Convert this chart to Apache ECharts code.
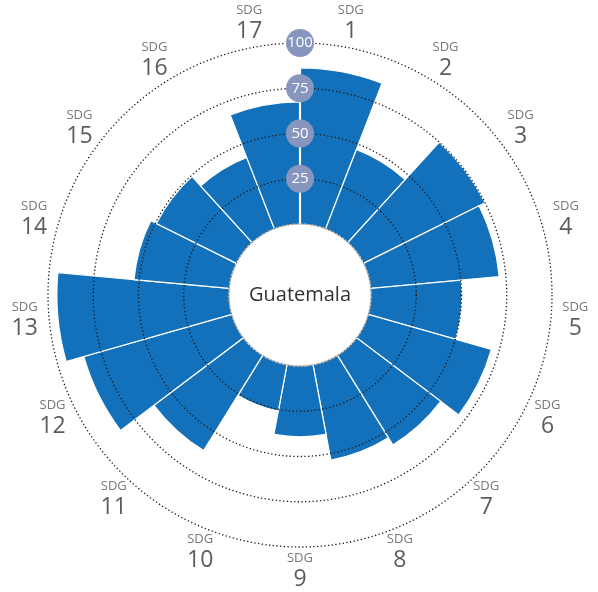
<!DOCTYPE html>
<html>
<head>
<meta charset="utf-8">
<script src="https://cdn.jsdelivr.net/npm/echarts@6/dist/echarts.min.js"></script>
<style>html,body{margin:0;background:#fff}#chart{width:598px;height:592px}</style>
</head>
<body>
<div id="chart"></div>
<script>
const goals = ['1', '2', '3', '4', '5', '6', '7', '8', '9', '10', '11', '12', '13', '14', '15', '16', '17'];
const scores = [86.2, 47, 75, 71.3, 50.3, 70.7, 58.2, 53.6, 39.1, 26, 61.9, 85, 95.1, 52.9, 49.4, 42.3, 67.5];
const country = 'Guatemala';
const labelRadius = 113.5; // radius (axis units) where the SDG labels sit

const chart = echarts.init(document.getElementById('chart'));
chart.setOption({
  animation: false,
  textStyle: { fontFamily: 'Open Sans' },
  polar: { center: [300, 295], radius: [71, 252] },
  angleAxis: {
    type: 'category', data: goals, startAngle: 90, clockwise: true,
    axisLine: { show: false }, axisTick: { show: false }, axisLabel: { show: false }, splitLine: { show: false },
  },
  radiusAxis: {
    min: 0, max: 100, interval: 25, z: 5,
    axisLine: { lineStyle: { color: '#fff', width: 2.2 } },
    axisTick: { show: false },
    axisLabel: {
      showMinLabel: false, margin: 0, align: 'center', verticalAlign: 'middle',
      color: '#fff', fontSize: 15, backgroundColor: '#8796be', borderRadius: 14,
      width: 28, height: 28, lineHeight: 28,
    },
    splitLine: { lineStyle: { type: [1.3, 2.4], color: '#1a1a1a', width: 1.3 } },
  },
  series: [
    {
      type: 'bar', coordinateSystem: 'polar', data: scores, barCategoryGap: '0%', z: 2,
      itemStyle: { color: '#1271ba', borderColor: '#fff', borderWidth: 1.2 },
    },
    {
      type: 'scatter', coordinateSystem: 'polar', clip: false, silent: true,
      symbolSize: 1, itemStyle: { color: 'transparent' },
      data: goals.map(g => [labelRadius, g]),
      label: {
        show: true, position: 'inside',
        formatter: p => `{a|SDG}\n{b|${p.value[1]}}`,
        rich: {
          a: { fontSize: 13, color: '#555', lineHeight: 16, align: 'center' },
          b: { fontSize: 23, color: '#333', lineHeight: 26, align: 'center' },
        },
      },
    },
    {
      type: 'pie', center: [300, 295], radius: [0, 71], silent: true, z: 10,
      data: [{ value: 1, name: country }],
      itemStyle: { color: '#fff', borderColor: '#9a9a9a', borderWidth: 0.8 },
      label: { position: 'center', fontSize: 20, color: '#333' },
      labelLine: { show: false },
    },
  ],
});
</script>
</body>
</html>
